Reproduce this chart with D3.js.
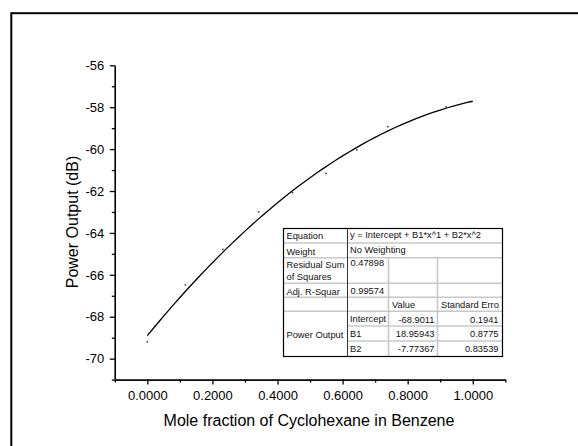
<!doctype html>
<html lang="en">
<head>
  <meta charset="utf-8">
  <title>Power Output vs Mole fraction</title>
  <style>
    body { margin: 0; background: #fff; }
    svg { display: block; font-family: "Liberation Sans", Arial, sans-serif; }
    .axis path, .axis line { stroke: #000; stroke-width: 1.3; }
    .axis text { font-size: 13px; fill: #000; }
    .tbl text { font-size: 9.3px; fill: #111; }
  </style>
</head>
<body>
  <div id="chart"></div>
  <script src="https://d3js.org/d3.v7.min.js"></script>
  <script>
(function(){

  var width = 578;
  var height = 446;

  var moleFraction = [0, 0.117, 0.232, 0.342, 0.446, 0.549, 0.644, 0.739, 0.918];
  var powerOutput = [-69.2, -66.48, -64.79, -62.99, -62.08, -61.16, -60.04, -58.93, -57.98];

  // polynomial fit, as printed in the table
  var fitNames = ['Intercept', 'B1', 'B2'];
  var fitValues = [-68.9011, 18.95943, -7.77367];
  var fitErrors = ['0.1941', '0.8775', '0.83539'];
  var fitValueText = ['-68.9011', '18.95943', '-7.77367'];

  var xMajor = [0, 0.2, 0.4, 0.6, 0.8, 1.0];
  var xMinor = [-0.1, 0.1, 0.3, 0.5, 0.7, 0.9, 1.1];
  var yMajor = [-70, -68, -66, -64, -62, -60, -58, -56];
  var yMinor = [-71, -69, -67, -65, -63, -61, -59, -57];

  var svg = d3.select('#chart').append('svg')
      .attr('width', width)
      .attr('height', height);

  svg.append('rect').attr('width', width).attr('height', height).attr('fill', '#fff');

  // outer frame (runs off the right and bottom of the picture)
  svg.append('rect')
      .attr('x', 11.3).attr('y', 13.2)
      .attr('width', 620).attr('height', 500)
      .attr('fill', 'none').attr('stroke', '#000').attr('stroke-width', 2);

  var x = d3.scaleLinear().domain([-0.1, 1.1]).range([114.8, 505.3]);
  var y = d3.scaleLinear().domain([-71, -56]).range([379.6, 65.3]);

  // minor ticks
  svg.append('g').attr('class', 'axis')
      .attr('transform', 'translate(0,' + y(-71) + ')')
      .call(d3.axisBottom(x).tickValues(xMinor).tickSize(3).tickSizeOuter(0).tickFormat(''));
  svg.append('g').attr('class', 'axis')
      .attr('transform', 'translate(' + x(-0.1) + ',0)')
      .call(d3.axisLeft(y).tickValues(yMinor).tickSize(3).tickSizeOuter(0).tickFormat(''));

  // major ticks + labels
  svg.append('g').attr('class', 'axis')
      .attr('transform', 'translate(0,' + y(-71) + ')')
      .call(d3.axisBottom(x).tickValues(xMajor).tickSize(5).tickSizeOuter(0)
        .tickPadding(6.5).tickFormat(d3.format('.4f')));
  svg.append('g').attr('class', 'axis')
      .attr('transform', 'translate(' + x(-0.1) + ',0)')
      .call(d3.axisLeft(y).tickValues(yMajor).tickSize(5).tickSizeOuter(0)
        .tickPadding(5.5).tickFormat(function(d){ return String(d); }));

  // axis titles
  svg.append('text')
      .attr('x', 309).attr('y', 426)
      .attr('text-anchor', 'middle')
      .style('font-size', '16px')
      .text('Mole fraction of Cyclohexane in Benzene');

  svg.append('text')
      .attr('transform', 'translate(78,222) rotate(-90)')
      .attr('text-anchor', 'middle')
      .style('font-size', '16px')
      .text('Power Output (dB)');

  // fit curve from the printed coefficients
  var fitX = d3.range(0, 1.0001, 0.02);
  var line = d3.line()
      .x(function(d){ return x(d); })
      .y(function(d){ return y(fitValues[0] + fitValues[1] * d + fitValues[2] * d * d); });
  svg.append('path')
      .datum(fitX)
      .attr('d', line)
      .attr('fill', 'none')
      .attr('stroke', '#000')
      .attr('stroke-width', 1.3);

  // data points, drawn as tiny dots
  svg.append('g').selectAll('rect')
      .data(moleFraction)
      .enter().append('rect')
      .attr('x', function(d){ return x(d) - 0.8; })
      .attr('y', function(d, i){ return y(powerOutput[i]) - 0.8; })
      .attr('width', 1.6).attr('height', 1.6)
      .attr('fill', '#444');

  // ---- fit table ----
  var t = svg.append('g').attr('class', 'tbl');
  var cols = [283.5, 347.5, 388.5, 437.5, 502.5];
  var rows = [228.5, 243, 257.7, 283.3, 297.2, 311.3, 326, 341, 356.5];

  t.append('rect')
      .attr('x', cols[0]).attr('y', rows[0])
      .attr('width', cols[4] - cols[0]).attr('height', rows[8] - rows[0])
      .attr('fill', '#fff');

  var grey = '#c8c8c8';
  // horizontal rules
  [1, 2, 3, 4].forEach(function(r){
    t.append('line').attr('x1', cols[0]).attr('x2', cols[4])
      .attr('y1', rows[r]).attr('y2', rows[r])
      .attr('stroke', grey).attr('stroke-width', 1.6);
  });
  [5, 6, 7].forEach(function(r){
    t.append('line').attr('x1', r === 5 ? cols[0] : cols[1]).attr('x2', cols[4])
      .attr('y1', rows[r]).attr('y2', rows[r])
      .attr('stroke', grey).attr('stroke-width', 1.6);
  });
  // vertical rules
  [2, 3].forEach(function(c){
    t.append('line').attr('x1', cols[c]).attr('x2', cols[c])
      .attr('y1', rows[2]).attr('y2', rows[8])
      .attr('stroke', grey).attr('stroke-width', 1.6);
  });
  t.append('line').attr('x1', cols[1]).attr('x2', cols[1])
    .attr('y1', rows[0]).attr('y2', rows[8])
    .attr('stroke', '#333').attr('stroke-width', 1);
  t.append('rect')
      .attr('x', cols[0]).attr('y', rows[0])
      .attr('width', cols[4] - cols[0]).attr('height', rows[8] - rows[0])
      .attr('fill', 'none').attr('stroke', '#000').attr('stroke-width', 1.2);

  function cell(tx, ty, s, anchor){
    t.append('text').attr('x', tx).attr('y', ty)
      .attr('text-anchor', anchor || 'start').text(s);
  }

  cell(286.5, 239, 'Equation');
  cell(350, 238.3, 'y = Intercept + B1*x^1 + B2*x^2');
  cell(286.5, 254.8, 'Weight');
  cell(350, 252.5, 'No Weighting');
  cell(286.5, 268.3, 'Residual Sum');
  cell(286.5, 279.5, 'of Squares');
  cell(350.5, 266, '0.47898');
  cell(286.5, 294.8, 'Adj. R-Squar');
  cell(350.5, 294, '0.99574');
  cell(392, 308.3, 'Value');
  cell(441, 308.3, 'Standard Erro');
  cell(286.5, 337.6, 'Power Output');

  var rowBase = [322.6, 337.4, 352.3];
  fitNames.forEach(function(n, i){
    cell(350, rowBase[i] - 0.6, n);
    cell(434.5, rowBase[i], fitValueText[i], 'end');
    cell(498.5, rowBase[i], fitErrors[i], 'end');
  });

})();
  </script>
</body>
</html>
